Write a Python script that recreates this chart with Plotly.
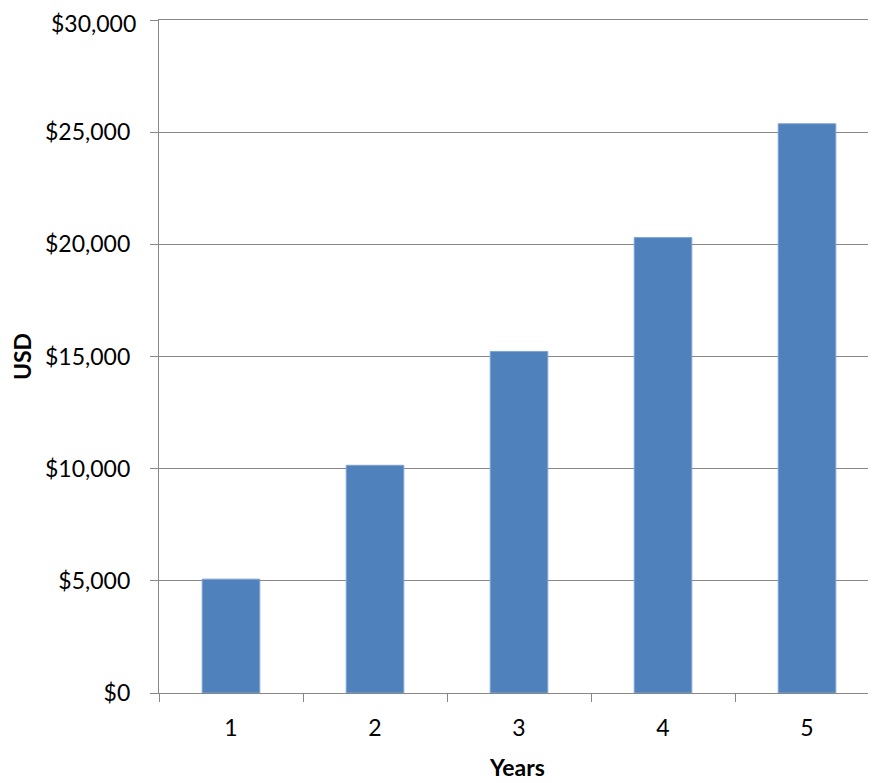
import plotly.graph_objects as go

years = ["1", "2", "3", "4", "5"]
values = [5075, 10150, 15225, 20300, 25375]
y_tickvals = [0, 5000, 10000, 15000, 20000, 25000, 30000]
y_ticktext = ["$0", "$5,000", "$10,000", "$15,000", "$20,000", "$25,000", "$30,000"]

fig = go.Figure()
fig.add_trace(go.Bar(
    x=years, y=values, width=0.4,
    marker=dict(color="#4F81BD", line=dict(color="#7FA3D3", width=1)),
))

font = "Lato, 'Open Sans', sans-serif"
fig.update_layout(
    width=868, height=775,
    margin=dict(l=151, r=0, t=12, b=90, autoexpand=False),
    paper_bgcolor="white", plot_bgcolor="white",
    showlegend=False,
    font=dict(family=font, size=23, color="black"),
    bargap=0.6,
)
fig.update_xaxes(
    type="category", range=[-0.5, 4.479],
    showline=True, linecolor="#878787", linewidth=1.3, mirror=True,
    ticks="outside", tickson="boundaries", ticklen=8, tickcolor="#878787", tickwidth=1.3,
    showgrid=False, ticklabelstandoff=14,
    title=dict(text="<b>Years</b>", font=dict(size=23), standoff=20),
)
# top tick label sits at the very edge of the figure, so it is drawn as an annotation
fig.update_yaxes(
    range=[0, 30000], tickvals=y_tickvals, ticktext=y_ticktext[:-1] + [""],
    showline=True, linecolor="#878787", linewidth=1.3,
    ticks="outside", ticklen=8, tickcolor="#878787", tickwidth=1.3,
    showgrid=True, gridcolor="#878787", gridwidth=1.3,
    zeroline=False, ticklabelstandoff=15,
    title=dict(text="<b>USD</b>", font=dict(size=23), standoff=12),
)
fig.add_annotation(
    text=y_ticktext[-1], x=0, xref="paper", y=y_tickvals[-1], yref="y",
    xanchor="right", yanchor="middle", xshift=-22, yshift=-3, showarrow=False,
    borderpad=0, font=dict(family=font, size=23, color="black"),
)
fig.write_html("out.html")
